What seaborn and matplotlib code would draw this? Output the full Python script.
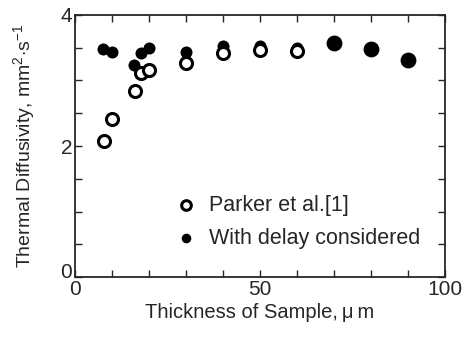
import matplotlib
matplotlib.use('Agg')
import matplotlib.pyplot as plt
import matplotlib.transforms as mtransforms
import seaborn as sns
import pandas as pd

# Parker et al. [1]
parker_x = [7.9, 10.0, 16.3, 17.8, 20.0, 30.0, 40.0, 50.0, 60.0]
parker_y = [2.07, 2.41, 2.84, 3.12, 3.16, 3.27, 3.42, 3.47, 3.45]

# with delay considered
delay_x = [7.7, 9.9, 15.9, 17.8, 19.9, 29.9, 40.0, 50.0, 60.0, 70.0, 80.0, 90.0]
delay_y = [3.48, 3.44, 3.24, 3.42, 3.50, 3.44, 3.52, 3.53, 3.50, 3.57, 3.48, 3.31]
delay_big = [False] * 9 + [True] * 3

sns.set_style('ticks')
plt.rcParams['font.family'] = ['Liberation Sans', 'DejaVu Sans']
plt.rcParams['mathtext.fontset'] = 'custom'
plt.rcParams['mathtext.rm'] = 'Liberation Sans'

fig = plt.figure(figsize=(4.63, 3.38), dpi=100)
ax = fig.add_axes([0.162, 0.180, 0.799, 0.776])

df_d = pd.DataFrame({'x': delay_x, 'y': delay_y, 'big': delay_big})
sns.scatterplot(data=df_d[~df_d.big], x='x', y='y', ax=ax, color='black',
                s=75, edgecolor='black', linewidth=0, zorder=2,
                label='With delay considered')
sns.scatterplot(data=df_d[df_d.big], x='x', y='y', ax=ax, color='black',
                s=130, edgecolor='black', linewidth=0, zorder=2)

df_p = pd.DataFrame({'x': parker_x, 'y': parker_y})
sns.scatterplot(data=df_p, x='x', y='y', ax=ax, facecolor='white',
                edgecolor='black', s=75, linewidth=2.2, zorder=3,
                label='Parker et al.[1]')

ax.set_xlim(0, 100)
ax.set_ylim(0, 4)
ax.set_xticks(range(0, 101, 10))
ax.set_xticklabels([str(v) if v % 50 == 0 else '' for v in range(0, 101, 10)])
yt = [i * 0.5 for i in range(9)]
ax.set_yticks(yt)
ax.set_yticklabels([str(int(v)) if v in (0, 2, 4) else '' for v in yt])
ax.tick_params(direction='in', top=True, right=True, length=5, width=1,
               labelsize=15, pad=2)
for sp in ax.spines.values():
    sp.set_linewidth(1.3)

# the "0" on the y axis sits a little higher, clear of the x "0"
lab0 = ax.get_yticklabels()[0]
lab0.set_transform(lab0.get_transform() +
                   mtransforms.ScaledTranslation(0, 5 / 72, fig.dpi_scale_trans))

ax.set_xlabel('Thickness of Sample,\u2009\u03bc\u2009m', fontsize=14.5, labelpad=3)
ax.set_ylabel('Thermal Diffusivity, mm$^2$$\\cdot$s$^{-1}$', fontsize=14, labelpad=16)

h, l = ax.get_legend_handles_labels()
order = [l.index('Parker et al.[1]'), l.index('With delay considered')]
ax.legend([h[i] for i in order], [l[i] for i in order], frameon=False,
          loc='lower left', bbox_to_anchor=(0.19, 0.035), fontsize=15.5,
          handletextpad=0.05, labelspacing=0.55, markerscale=0.8)

fig.savefig('out.png', dpi=100)
